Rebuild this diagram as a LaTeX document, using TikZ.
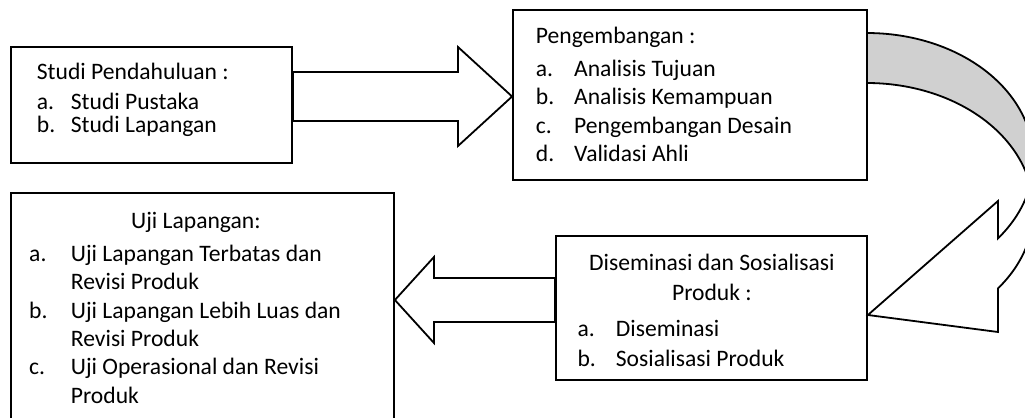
\documentclass[tikz,border=0pt]{standalone}
\usepackage{fontspec}
\setmainfont{Carlito}
\usetikzlibrary{fit}

\definecolor{abuband}{RGB}{208,208,208}

\begin{document}
\begin{tikzpicture}[x=0.5pt, y=-0.5pt, line width=0.9pt,
  kotak/.style={draw, inner sep=0pt},
  isi/.style={anchor=base west, inner sep=0pt, font=\fontsize{11.8}{#1}\selectfont},
  isi/.default=13.9pt,
  panah/.style={draw, fill=white}]
  % ukuran gambar: 1025 x 418 (satuan = piksel)
  \useasboundingbox (0,0) rectangle (1025,418);
  \clip (0,0) rectangle (1025,418);

  % kotak-kotak tahapan
  \node[kotak, fit={(11,47) (292,163)}] (studi) {};
  \node[kotak, fit={(513,10) (867,180)}] (kembang) {};
  \node[kotak, fit={(556,236) (867,380)}] (sebar) {};
  \node[kotak, fit={(11,193) (394,430)}] (uji) {};

  % panah tebal studi -> pengembangan
  \draw[panah] (studi.east |- 0,72) -- (458,72) -- (458,47) -- (kembang.west |- 0,96.5)
    -- (458,146) -- (458,121) -- (studi.east |- 0,121) -- cycle;
  % panah tebal diseminasi -> uji lapangan
  \draw[panah] (sebar.west |- 0,278) -- (434,278) -- (434,257) -- (uji.east |- 0,300)
    -- (434,343) -- (434,322) -- (sebar.west |- 0,322) -- cycle;

  % panah melengkung: dua elips sama besar, pusat (867,160) dan (867,210)
  % rx = 166.5, ry = 127; kedua elips berpotongan di t = +-11.35 derajat
  \filldraw[fill=abuband]
    plot[domain=-90:11.35, samples=60] ({867+166.5*cos(\x)}, {160+127*sin(\x)})
    -- plot[domain=-11.35:-90, samples=60] ({867+166.5*cos(\x)}, {210+127*sin(\x)})
    -- cycle;
  % bagian depan + kepala panah (x = 998 -> t = 38.1)
  \draw[panah]
    plot[domain=11.35:38.1, samples=30] ({867+166.5*cos(\x)}, {160+127*sin(\x)})
    -- (998,201) -- (sebar.east |- 0,315) -- (998,332)
    -- plot[domain=38.1:-11.35, samples=30] ({867+166.5*cos(\x)}, {210+127*sin(\x)})
    -- cycle;

  % isi kotak
  \node[isi=11.65pt] (tstudi) at (36,79) {\begin{tabular}[t]{@{}p{17pt}@{}l@{}}
    \multicolumn{2}{@{}l@{}}{Studi Pendahuluan :}\\[3.4pt]
    a. & Studi Pustaka\\
    b. & Studi Lapangan
  \end{tabular}};
  \node[isi=14.15pt] (tkembang) at (535,43) {\begin{tabular}[t]{@{}p{19.15pt}@{}l@{}}
    \multicolumn{2}{@{}l@{}}{Pengembangan :}\\[2.6pt]
    a. & Analisis Tujuan\\
    b. & Analisis Kemampuan\\
    c. & Pengembangan Desain\\
    d. & Validasi Ahli
  \end{tabular}};
  \node[isi=15pt] (tsebar) at (576.7,270) {\begin{tabular}[t]{@{}p{19.15pt}@{}p{115.15pt}@{}}
    \multicolumn{2}{@{}c@{}}{Diseminasi dan Sosialisasi}\\
    \multicolumn{2}{@{}c@{}}{Produk :}\\[3.25pt]
    a. & Diseminasi\\
    b. & Sosialisasi Produk
  \end{tabular}};
  \node[isi=14.15pt] (tuji) at (28.3,228.3) {\begin{tabular}[t]{@{}p{20.85pt}@{}p{145.85pt}@{}}
    \multicolumn{2}{@{}c@{}}{Uji Lapangan:}\\[2.5pt]
    a. & Uji Lapangan Terbatas dan\\
       & Revisi Produk\\
    b. & Uji Lapangan Lebih Luas dan\\
       & Revisi Produk\\
    c. & Uji Operasional dan Revisi\\
       & Produk
  \end{tabular}};
\end{tikzpicture}
\end{document}
